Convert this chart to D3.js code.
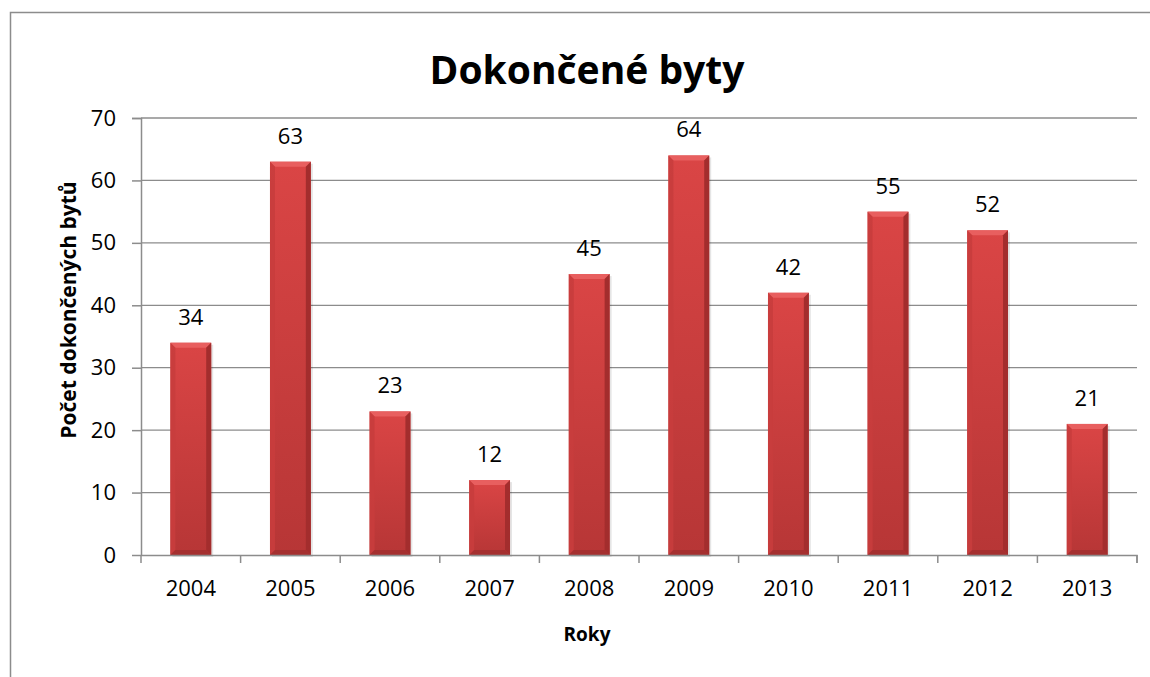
<!DOCTYPE html>
<html>
<head>
<meta charset="utf-8">
<script src="https://cdn.jsdelivr.net/npm/d3@7"></script>
<style>
  body { margin: 0; background: #fff; }
  svg { display: block; font-family: "Open Sans", "Noto Sans", sans-serif; }
</style>
</head>
<body>
<svg id="chart"></svg>
<script>
const years = ['2004', '2005', '2006', '2007', '2008', '2009', '2010', '2011', '2012', '2013'];
const counts = [34, 63, 23, 12, 45, 64, 42, 55, 52, 21];
const yTicks = [0, 10, 20, 30, 40, 50, 60, 70];

const W = 1150, H = 677;
const svg = d3.select('#chart').attr('width', W).attr('height', H);
const margin = { top: 118, right: 13, bottom: 122, left: 141 };
const width = W - margin.left - margin.right;
const height = H - margin.top - margin.bottom;

// outer frame
svg.append('rect')
  .attr('x', 10.5).attr('y', 12.5)
  .attr('width', W).attr('height', H)
  .attr('fill', 'none').attr('stroke', '#8c8c8c').attr('stroke-width', 1.5);

const defs = svg.append('defs');
const grad = defs.append('linearGradient').attr('id', 'barGrad')
  .attr('x1', 0).attr('x2', 0).attr('y1', 0).attr('y2', 1);
grad.append('stop').attr('offset', '0%').attr('stop-color', '#da4545');
grad.append('stop').attr('offset', '100%').attr('stop-color', '#b73636');

const g = svg.append('g').attr('transform', `translate(${margin.left},${margin.top})`);

const x = d3.scaleBand().domain(years).range([0, width]).paddingInner(0.59).paddingOuter(0.295);
const y = d3.scaleLinear().domain([0, 70]).range([height, 0]);

// gridlines
g.append('g').selectAll('line').data(yTicks.filter(d => d > 0)).enter().append('line')
  .attr('x1', 0).attr('x2', width)
  .attr('y1', d => y(d)).attr('y2', d => y(d))
  .attr('stroke', '#8c8c8c').attr('stroke-width', 1.3);

// bars with bevel
const bars = g.selectAll('.bar').data(years.map((yr, i) => ({ yr, v: counts[i] }))).enter()
  .append('g').attr('class', 'bar');

bars.append('rect')
  .attr('x', d => x(d.yr) + 2).attr('y', d => y(d.v) + 2)
  .attr('width', x.bandwidth()).attr('height', d => height - y(d.v))
  .attr('fill', '#000').attr('opacity', 0.1);

bars.append('rect')
  .attr('x', d => x(d.yr)).attr('y', d => y(d.v))
  .attr('width', x.bandwidth()).attr('height', d => height - y(d.v))
  .attr('fill', 'url(#barGrad)');

const bev = 5;
// top facet
bars.append('path')
  .attr('d', d => {
    const x0 = x(d.yr), x1 = x0 + x.bandwidth(), t = y(d.v);
    return `M${x0},${t}L${x1},${t}L${x1 - bev},${t + bev}L${x0 + bev},${t + bev}Z`;
  })
  .attr('fill', '#e85f5f');
// left facet
bars.append('path')
  .attr('d', d => {
    const x0 = x(d.yr), t = y(d.v), b = height;
    return `M${x0},${t}L${x0 + bev},${t + bev}L${x0 + bev},${b - bev}L${x0},${b}Z`;
  })
  .attr('fill', '#c83d3d').attr('opacity', 0.9);
// right facet
bars.append('path')
  .attr('d', d => {
    const x1 = x(d.yr) + x.bandwidth(), t = y(d.v), b = height;
    return `M${x1},${t}L${x1 - bev},${t + bev}L${x1 - bev},${b - bev}L${x1},${b}Z`;
  })
  .attr('fill', '#a32d2d');
// bottom facet
bars.append('path')
  .attr('d', d => {
    const x0 = x(d.yr), x1 = x0 + x.bandwidth(), b = height;
    return `M${x0},${b}L${x1},${b}L${x1 - bev},${b - bev}L${x0 + bev},${b - bev}Z`;
  })
  .attr('fill', '#a53030');

// value labels
bars.append('text')
  .attr('x', d => x(d.yr) + x.bandwidth() / 2)
  .attr('y', d => y(d.v) - 18)
  .attr('text-anchor', 'middle')
  .attr('font-size', 22)
  .text(d => d.v);

// axes
const yAxis = g.append('g')
  .call(d3.axisLeft(y).tickValues(yTicks).tickSize(9).tickPadding(16));
const xAxis = g.append('g').attr('transform', `translate(0,${height})`)
  .call(d3.axisBottom(x).tickSize(0).tickPadding(25));

[yAxis, xAxis].forEach(a => {
  a.select('.domain').attr('stroke', '#8c8c8c').attr('stroke-width', 1.5);
  a.selectAll('.tick line').attr('stroke', '#8c8c8c').attr('stroke-width', 1.5);
  a.selectAll('text').attr('font-size', 22).attr('fill', '#000').attr('font-family', '"Open Sans", sans-serif');
});
yAxis.select('.domain').attr('d', `M-9,0.5H0.5V${height}`);
xAxis.select('.domain').attr('d', `M0,0.5H${width}V8`);

// x category boundary ticks
const step = x.step();
g.append('g').selectAll('line').data(d3.range(0, years.length + 1)).enter().append('line')
  .attr('x1', i => x(years[0]) - x.paddingOuter() * step + i * step)
  .attr('x2', i => x(years[0]) - x.paddingOuter() * step + i * step)
  .attr('y1', height).attr('y2', height + 8)
  .attr('stroke', '#8c8c8c').attr('stroke-width', 1.5);

// titles
svg.append('text')
  .attr('x', 587).attr('y', 84)
  .attr('text-anchor', 'middle')
  .attr('font-size', 39).attr('font-weight', 'bold')
  .text('Dokončené byty');

svg.append('text')
  .attr('x', 587).attr('y', 641)
  .attr('text-anchor', 'middle')
  .attr('font-size', 19).attr('font-weight', 'bold')
  .text('Roky');

svg.append('text')
  .attr('transform', `translate(76,310) rotate(-90)`)
  .attr('text-anchor', 'middle')
  .attr('font-size', 21).attr('font-weight', 'bold')
  .text('Počet dokončených bytů');
</script>
</body>
</html>
